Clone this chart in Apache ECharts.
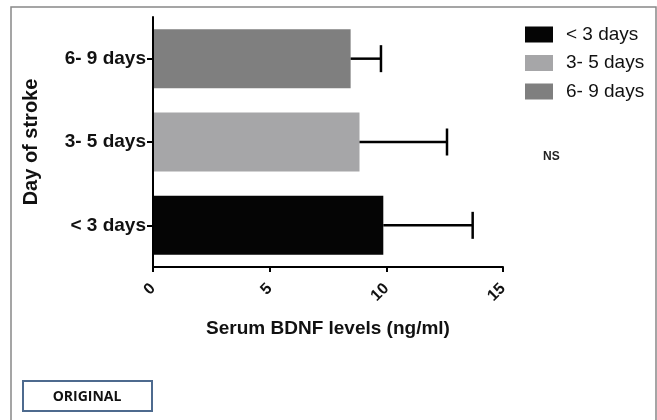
<!DOCTYPE html>
<html>
<head>
<meta charset="utf-8">
<script src="https://cdn.jsdelivr.net/npm/echarts@6/dist/echarts.min.js"></script>
<style>
html,body{margin:0;padding:0;background:#fff;}
#main{width:657px;height:420px;}
</style>
</head>
<body>
<div id="main"></div>
<script>
// 分组 (从下往上)
var categories = ['< 3 days', '3- 5 days', '6- 9 days'];
var meanValues = [9.87, 8.85, 8.47];
var errUpper = [13.7, 12.6, 9.77];
var barColors = ['#050505', '#a6a6a8', '#7f7f7f'];
var xTicks = [0, 5, 10, 15];

var FONT = '"Liberation Sans", Arial, sans-serif';

// 每组一个系列, 用于图例
var barSeries = [];
for (var i = 0; i < categories.length; i++) {
	var d = [];
	for (var j = 0; j < categories.length; j++) {
		d.push(j == i ? meanValues[i] : null);
	}
	barSeries.push({
		name: categories[i],
		type: 'bar',
		data: d,
		barWidth: 59,
		barGap: '-100%',
		itemStyle: { color: barColors[i] },
		silent: true
	});
}

// 误差线
var errData = [];
for (var k = 0; k < categories.length; k++) {
	errData.push([k, meanValues[k], errUpper[k]]);
}
var errSeries = {
	type: 'custom',
	data: errData,
	silent: true,
	z: 10,
	renderItem: function(params, api) {
		var p0 = api.coord([api.value(1), api.value(0)]);
		var p1 = api.coord([api.value(2), api.value(0)]);
		var style = { stroke: '#000', lineWidth: 2.5 };
		return {
			type: 'group',
			children: [
				{ type: 'line', shape: { x1: p0[0], y1: p0[1], x2: p1[0], y2: p1[1] }, style: style },
				{ type: 'line', shape: { x1: p1[0], y1: p1[1] - 13.5, x2: p1[0], y2: p1[1] + 13.5 }, style: style }
			]
		};
	},
	encode: { x: [1, 2], y: 0 }
};

var myChart = echarts.init(document.getElementById('main'));
myChart.setOption({
	animation: false,
	backgroundColor: '#fff',
	grid: { left: 153, right: 154, top: 17, bottom: 153, containLabel: false },
	legend: {
		data: categories,
		orient: 'vertical',
		left: 525,
		top: 25,
		padding: 0,
		itemWidth: 28,
		itemHeight: 16,
		itemGap: 9.5,
		icon: 'rect',
		textStyle: { fontFamily: FONT, fontSize: 19, color: '#111', padding: [0, 0, 0, 8] },
		selectedMode: false
	},
	xAxis: {
		type: 'value',
		min: xTicks[0],
		max: xTicks[xTicks.length - 1],
		interval: 5,
		z: 5,
		splitLine: { show: false },
		axisLine: { show: true, lineStyle: { color: '#000', width: 2 } },
		axisTick: { show: true, length: 5, lineStyle: { color: '#000', width: 2 } },
		axisLabel: { rotate: 45, fontFamily: FONT, fontWeight: 'bold', fontSize: 16, color: '#111', margin: 19 },
		name: 'Serum BDNF levels (ng/ml)',
		nameLocation: 'middle',
		nameGap: 52,
		nameTextStyle: { fontFamily: FONT, fontWeight: 'bold', fontSize: 19, color: '#111' }
	},
	yAxis: {
		type: 'category',
		data: categories,
		z: 5,
		axisLine: { show: true, lineStyle: { color: '#000', width: 2 } },
		axisTick: { show: true, alignWithLabel: true, length: 6, lineStyle: { color: '#000', width: 2 } },
		axisLabel: { fontFamily: FONT, fontWeight: 'bold', fontSize: 19, color: '#111', margin: 7 },
		name: 'Day of stroke',
		nameLocation: 'middle',
		nameGap: 112,
		nameRotate: 90,
		nameTextStyle: { fontFamily: FONT, fontWeight: 'bold', fontSize: 20, color: '#111' }
	},
	graphic: [
		{ type: 'rect', shape: { x: 11, y: 7, width: 645, height: 430 }, style: { fill: 'none', stroke: '#888', lineWidth: 1.5 }, silent: true },
		{ type: 'text', x: 543, y: 157, style: { text: 'NS', fontFamily: FONT, fontWeight: 'bold', fontSize: 12, fill: '#222', verticalAlign: 'middle' } },
		{ type: 'rect', shape: { x: 23, y: 381, width: 129, height: 30 }, style: { fill: '#fff', stroke: '#4d6a8e', lineWidth: 2 } },
		{ type: 'text', x: 87, y: 397, style: { text: 'ORIGINAL', fontFamily: '"Open Sans", "Liberation Sans", sans-serif', fontWeight: 'bold', fontSize: 14, fill: '#111', align: 'center', verticalAlign: 'middle' } }
	],
	series: barSeries.concat([errSeries])
});
</script>
</body>
</html>
